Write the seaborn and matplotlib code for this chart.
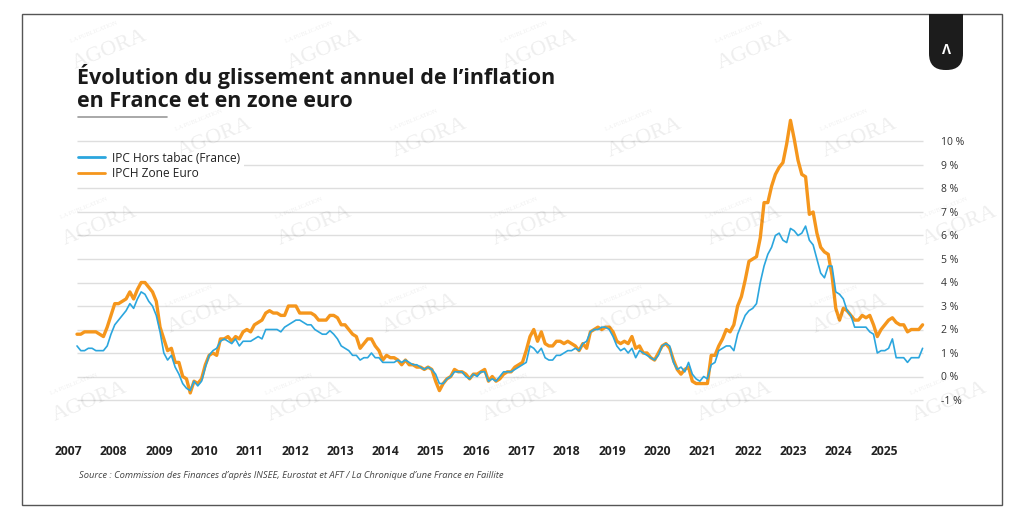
import numpy as np
import pandas as pd
import seaborn as sns
import matplotlib.pyplot as plt
from matplotlib.lines import Line2D
from matplotlib.patches import Rectangle, FancyBboxPatch

# glissement annuel mensuel, janvier 2007 -> septembre 2025
ipc_france = [
    1.3, 1.1, 1.1, 1.2, 1.2, 1.1, 1.1, 1.1, 1.3, 1.8, 2.2, 2.4,      # 2007
    2.6, 2.8, 3.1, 2.9, 3.3, 3.6, 3.5, 3.2, 3.0, 2.6, 1.9, 1.0,      # 2008
    0.7, 0.9, 0.4, 0.1, -0.3, -0.5, -0.6, -0.2, -0.4, -0.2, 0.4, 0.9,  # 2009
    1.1, 1.2, 1.5, 1.6, 1.5, 1.4, 1.6, 1.3, 1.5, 1.5, 1.5, 1.6,      # 2010
    1.7, 1.6, 2.0, 2.0, 2.0, 2.0, 1.9, 2.1, 2.2, 2.3, 2.4, 2.4,      # 2011
    2.3, 2.2, 2.2, 2.0, 1.9, 1.8, 1.8, 1.95, 1.8, 1.6, 1.3, 1.2,     # 2012
    1.1, 0.9, 0.9, 0.7, 0.8, 0.8, 1.0, 0.8, 0.8, 0.6, 0.6, 0.6,      # 2013
    0.6, 0.7, 0.6, 0.7, 0.6, 0.5, 0.5, 0.4, 0.3, 0.4, 0.3, 0.1,      # 2014
    -0.3, -0.3, -0.1, 0.0, 0.2, 0.2, 0.2, 0.0, -0.1, 0.1, 0.0, 0.2,  # 2015
    0.2, -0.2, -0.1, -0.2, 0.0, 0.2, 0.2, 0.2, 0.3, 0.4, 0.5, 0.6,   # 2016
    1.3, 1.2, 1.0, 1.2, 0.8, 0.7, 0.7, 0.9, 0.9, 1.0, 1.1, 1.1,      # 2017
    1.2, 1.1, 1.4, 1.5, 1.9, 2.0, 2.0, 2.1, 2.1, 2.0, 1.7, 1.3,      # 2018
    1.1, 1.2, 1.0, 1.2, 0.8, 1.1, 1.0, 0.9, 0.8, 0.7, 0.9, 1.3,      # 2019
    1.4, 1.3, 0.6, 0.3, 0.4, 0.2, 0.6, 0.1, -0.1, -0.2, 0.0, -0.1,   # 2020
    0.5, 0.6, 1.1, 1.2, 1.3, 1.3, 1.1, 1.8, 2.2, 2.6, 2.8, 2.9,      # 2021
    3.1, 4.0, 4.7, 5.2, 5.5, 6.0, 6.1, 5.8, 5.7, 6.3, 6.2, 6.0,      # 2022
    6.1, 6.4, 5.8, 5.6, 5.0, 4.4, 4.2, 4.7, 4.7, 3.6, 3.5, 3.3,      # 2023
    2.8, 2.6, 2.1, 2.1, 2.1, 2.1, 1.9, 1.8, 1.0, 1.1, 1.1, 1.2,      # 2024
    1.6, 0.8, 0.8, 0.8, 0.6, 0.8, 0.8, 0.8, 1.2,                     # 2025
]
ipch_euro = [
    1.8, 1.8, 1.9, 1.9, 1.9, 1.9, 1.8, 1.7, 2.1, 2.6, 3.1, 3.1,      # 2007
    3.2, 3.3, 3.6, 3.3, 3.7, 4.0, 4.0, 3.8, 3.6, 3.2, 2.1, 1.6,      # 2008
    1.1, 1.2, 0.6, 0.6, 0.0, -0.1, -0.7, -0.2, -0.3, -0.1, 0.5, 0.9,  # 2009
    1.0, 0.9, 1.6, 1.6, 1.7, 1.5, 1.7, 1.6, 1.9, 2.0, 1.9, 2.2,      # 2010
    2.3, 2.4, 2.7, 2.8, 2.7, 2.7, 2.6, 2.6, 3.0, 3.0, 3.0, 2.7,      # 2011
    2.7, 2.7, 2.7, 2.6, 2.4, 2.4, 2.4, 2.6, 2.6, 2.5, 2.2, 2.2,      # 2012
    2.0, 1.8, 1.7, 1.2, 1.4, 1.6, 1.6, 1.3, 1.1, 0.7, 0.9, 0.8,      # 2013
    0.8, 0.7, 0.5, 0.7, 0.5, 0.5, 0.4, 0.4, 0.3, 0.4, 0.3, -0.2,     # 2014
    -0.6, -0.3, -0.1, 0.0, 0.3, 0.2, 0.2, 0.1, -0.1, 0.1, 0.1, 0.2,  # 2015
    0.3, -0.2, 0.0, -0.2, -0.1, 0.1, 0.2, 0.2, 0.4, 0.5, 0.6, 1.1,   # 2016
    1.7, 2.0, 1.5, 1.9, 1.4, 1.3, 1.3, 1.5, 1.5, 1.4, 1.5, 1.4,      # 2017
    1.3, 1.1, 1.4, 1.2, 1.9, 2.0, 2.1, 2.0, 2.1, 2.1, 1.9, 1.5,      # 2018
    1.4, 1.5, 1.4, 1.7, 1.2, 1.3, 1.0, 1.0, 0.8, 0.7, 1.0, 1.3,      # 2019
    1.4, 1.2, 0.7, 0.3, 0.1, 0.3, 0.4, -0.2, -0.3, -0.3, -0.3, -0.3, # 2020
    0.9, 0.9, 1.3, 1.6, 2.0, 1.9, 2.2, 3.0, 3.4, 4.1, 4.9, 5.0,      # 2021
    5.1, 5.9, 7.4, 7.4, 8.1, 8.6, 8.9, 9.1, 9.9, 10.9, 10.1, 9.2,    # 2022
    8.6, 8.5, 6.9, 7.0, 6.1, 5.5, 5.3, 5.2, 4.3, 2.9, 2.4, 2.9,      # 2023
    2.8, 2.6, 2.4, 2.4, 2.6, 2.5, 2.6, 2.2, 1.7, 2.0, 2.2, 2.4,      # 2024
    2.5, 2.3, 2.2, 2.2, 1.9, 2.0, 2.0, 2.0, 2.2,                     # 2025
]
annees = list(range(2007, 2026))
y_ticks = list(range(-1, 11))
series = ['IPC Hors tabac (France)', 'IPCH Zone Euro']
couleurs = ['#2ba6de', '#f5961c']

titre = "Évolution du glissement annuel de l\u2019inflation\nen France et en zone euro"
source = ("Source : Commission des Finances d\u2019après INSEE, Eurostat et AFT / "
          "La Chronique d\u2019une France en Faillite")

W, H = 1024, 519
sns.set_theme(style='white')
plt.rcParams['font.family'] = ['Open Sans', 'DejaVu Sans']

dates = pd.date_range('2007-01-01', periods=len(ipch_euro), freq='MS')
t = (dates.year + (dates.month - 1) / 12).to_numpy()
df = pd.DataFrame({
    't': np.concatenate([t, t]),
    'val': ipc_france + ipch_euro,
    'serie': [series[0]] * len(t) + [series[1]] * len(t),
})

fig = plt.figure(figsize=(W / 100, H / 100), dpi=100)

# repère en pixels: 1 an = 45.3 px, 1 point = 23.5 px, 0 % à y=376.5
x0, ppy = 77, 45.3
y0, ppp = 376.5, 23.5
l, r, tp, b = 60, 930, 110, 410
ax = fig.add_axes([l / W, 1 - b / H, (r - l) / W, (b - tp) / H])
ax.set_xlim(2007 + (l - x0) / ppy, 2007 + (r - x0) / ppy)
ax.set_ylim((y0 - b) / ppp, (y0 - tp) / ppp)

# filigrane (uniquement à l'intérieur du cadre)
for j in range(6):
    for i in range(5):
        xx = 110 + i * 215 + (j % 2) * 105 - (j // 2) * 10
        yy = 50 + j * 88
        if xx > 960 or yy > 480:
            continue
        fig.text(xx / W, 1 - yy / H, 'AGORA', rotation=22, fontsize=16,
                 family='Liberation Serif', color='#000000', alpha=0.07,
                 ha='center', va='center', zorder=0)
        fig.text((xx - 16) / W, 1 - (yy - 18) / H, 'LA PUBLICATION', rotation=22,
                 fontsize=4.5, family='Liberation Serif', color='#000000',
                 alpha=0.07, ha='center', va='center', zorder=0)

ax.hlines(y_ticks, t[0], t[-1], color='#dedede', lw=1, zorder=0)

sns.lineplot(data=df[df.serie == series[0]], x='t', y='val', color=couleurs[0],
             lw=1.2, ax=ax, label=series[0], zorder=3)
sns.lineplot(data=df[df.serie == series[1]], x='t', y='val', color=couleurs[1],
             lw=2.4, ax=ax, label=series[1], zorder=2)

ax.set_xlabel('')
ax.set_ylabel('')
ax.set_xticks([a - 0.19 for a in annees])
ax.set_xticklabels([str(a) for a in annees], fontsize=8.7, fontweight='bold',
                   color='#222222')
ax.yaxis.tick_right()
ax.set_yticks(y_ticks)
ax.set_yticklabels([f'{v} %' for v in y_ticks], fontsize=7.5, color='#333333')
ax.tick_params(axis='x', length=0, pad=25)
ax.tick_params(axis='y', length=0, pad=8)
for s in ax.spines.values():
    s.set_visible(False)
ax.patch.set_alpha(0)

handles = [Line2D([], [], color=couleurs[0], lw=2),
           Line2D([], [], color=couleurs[1], lw=2)]
leg = ax.legend(handles, series, loc='upper left',
                bbox_to_anchor=(74 / W, 1 - 148 / H), bbox_transform=fig.transFigure,
                frameon=True, facecolor='white', edgecolor='none', framealpha=1,
                fontsize=8.6, handlelength=2.3, handletextpad=0.6,
                labelspacing=0.2, borderpad=0.3, borderaxespad=0)
for txt in leg.get_texts():
    txt.set_color('#222222')

fig.text(77 / W, 1 - 64 / H, titre, va='top', ha='left', fontsize=15.5,
         fontweight='bold', color='#1a1a1a', linespacing=1.12)
fig.add_artist(Line2D([78 / W, 167 / W], [1 - 117 / H] * 2, color='#9a9a9a', lw=1.2))
fig.text(79 / W, 1 - 476 / H, source, va='center', ha='left', fontsize=6.75,
         style='italic', color='#444444')

# cadre et onglet du logo
fig.add_artist(Rectangle((22 / W, 1 - 505 / H), 980 / W, 491 / H,
                         transform=fig.transFigure, fill=False,
                         edgecolor='#555555', lw=1))
fig.add_artist(Rectangle((929 / W, 1 - 50 / H), 34 / W, 36 / H,
                         transform=fig.transFigure, color='#1c1c1c', lw=0))
fig.add_artist(FancyBboxPatch((929 / W, 1 - 70 / H), 34 / W, 40 / H,
                              boxstyle='round,pad=0,rounding_size=0.016',
                              transform=fig.transFigure, color='#1c1c1c', lw=0,
                              mutation_aspect=W / H))
fig.text(946 / W, 1 - 50 / H, '\u039b', color='white', fontsize=10,
         fontweight='bold', ha='center', va='center')

fig.savefig('out.png', dpi=100, facecolor='white')
